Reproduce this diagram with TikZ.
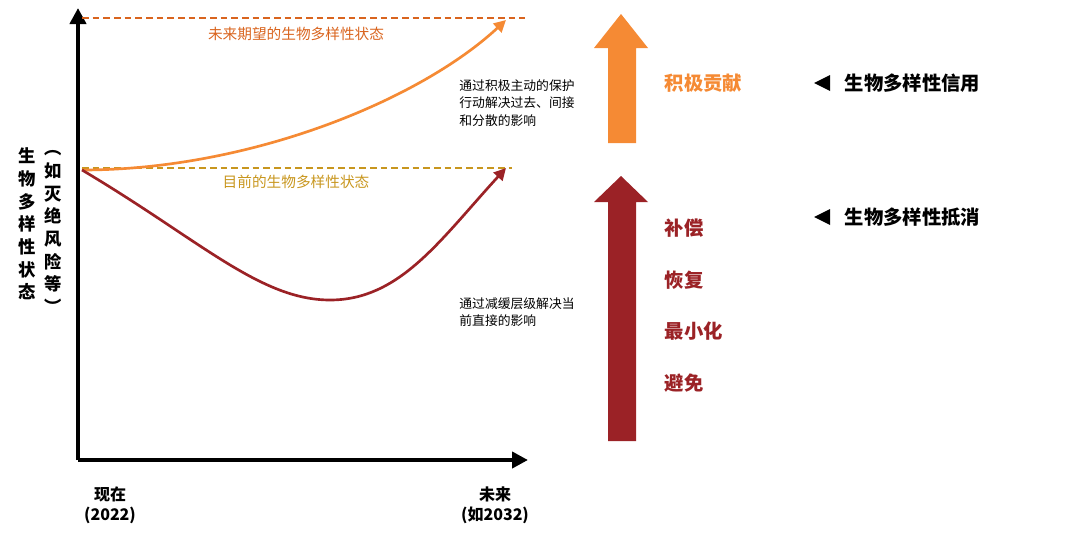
\documentclass[tikz,border=0pt]{standalone}
\usepackage{fontspec}
\setmainfont{Noto Sans CJK SC}
\usetikzlibrary{arrows.meta}
\definecolor{org}{HTML}{F58A34}
\definecolor{drd}{HTML}{9B2226}
\definecolor{gld}{HTML}{C8961E}
\definecolor{otx}{HTML}{D9641E}
\begin{document}
\begin{tikzpicture}[x=0.75pt,y=-0.75pt,
  axis/.style={line width=3pt,-{Triangle[length=12pt,width=12pt]}},
  dline/.style={line width=1.6pt,dash pattern=on 5pt off 3pt},
  small/.style={font=\fontsize{9.6}{13}\selectfont,align=left},
  big/.style={font=\fontsize{14.5}{16}\selectfont\bfseries},
  tri/.style={fill=black,draw=none}]
\useasboundingbox (0,0) rectangle (1080,539);
\coordinate (o) at (78,460);
\coordinate (yt) at (78,8);
\coordinate (xt) at (528,460);
\draw[axis] (o) -- (yt);
\draw[axis] (o) -- (xt);
\coordinate (s) at (82,170);
\coordinate (fe) at (525,18);
\coordinate (ce) at (512,168);
\draw[dline,color=otx] (82,18) -- (fe);
\draw[dline,color=gld] (82,168) -- (ce);
\node[color=otx,font=\fontsize{11}{12}\selectfont] (fl) at (296,34) {未来期望的生物多样性状态};
\node[color=gld,font=\fontsize{11}{12}\selectfont] (cl) at (296,182) {目前的生物多样性状态};
\coordinate (oe) at (506,20);
\coordinate (re) at (506,168);
\draw[org,line width=2pt,-{Triangle[length=9pt,width=9pt]}] (s) .. controls (250,170) and (420,100) .. (oe);
\draw[drd,line width=2pt,-{Triangle[length=9pt,width=9pt]}] (s) .. controls (200,240) and (260,300) .. (330,300) .. controls (400,300) and (440,240) .. (re);
\node[small] (t1) at (517,103) {通过积极主动的保护\\行动解决过去、间接\\和分散的影响};
\node[small] (t2) at (517,312) {通过减缓层级解决当\\前直接的影响};
\node[font=\fontsize{13}{17}\selectfont\bfseries,align=center] (yl) at (27,224) {生\\物\\多\\样\\性\\状\\态};
\node[font=\fontsize{13}{17}\selectfont\bfseries,align=center] (yl2) at (53,232) {︵\\如\\灭\\绝\\风\\险\\等\\︶};
\node[font=\fontsize{12}{15}\selectfont\bfseries,align=center] (x1) at (110,505) {现在\\(2022)};
\node[font=\fontsize{12}{15}\selectfont\bfseries,align=center] (x2) at (495,505) {未来\\(如2032)};
\fill[org] (608,143) -- (608,48) -- (594,48) -- (621,14) -- (648,48) -- (636,48) -- (636,143) -- cycle;
\fill[drd] (608,441) -- (608,202) -- (594,202) -- (621,176) -- (648,202) -- (636,202) -- (636,441) -- cycle;
\node[big,color=org,anchor=west] (a1) at (660,83) {积极贡献};
\node[big,color=drd,anchor=west] (b1) at (660,228) {补偿};
\node[big,color=drd,anchor=west] (b2) at (660,280) {恢复};
\node[big,color=drd,anchor=west] (b3) at (660,331) {最小化};
\node[big,color=drd,anchor=west] (b4) at (660,383) {避免};
\fill[tri] (814,83) -- (830,75) -- (830,91) -- cycle;
\fill[tri] (814,217) -- (830,209) -- (830,225) -- cycle;
\node[big,anchor=west] (c1) at (840,83) {生物多样性信用};
\node[big,anchor=west] (c2) at (840,217) {生物多样性抵消};
\end{tikzpicture}
\end{document}
